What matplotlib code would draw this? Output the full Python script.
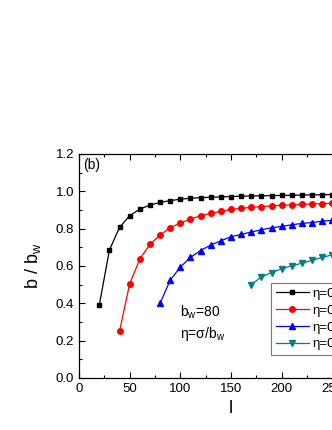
import numpy as np
import matplotlib.pyplot as plt

plt.rcParams['font.family'] = ['Liberation Sans', 'DejaVu Sans']

# black squares
l_1 = [20, 30, 40, 50, 60, 70, 80, 90, 100, 110, 120, 130, 140, 150, 160, 170, 180, 190, 200, 210, 220, 230, 240, 250, 260, 270, 280, 290, 300]
r_1 = [0.39, 0.685, 0.807, 0.869, 0.905, 0.926, 0.941, 0.950, 0.958, 0.963, 0.966, 0.968, 0.970, 0.972, 0.974, 0.975, 0.976, 0.977, 0.978, 0.979, 0.980, 0.981, 0.982, 0.982, 0.983, 0.983, 0.984, 0.984, 0.985]
# red circles
l_2 = [40, 50, 60, 70, 80, 90, 100, 110, 120, 130, 140, 150, 160, 170, 180, 190, 200, 210, 220, 230, 240, 250, 260, 270, 280, 290, 300]
r_2 = [0.25, 0.505, 0.637, 0.716, 0.766, 0.805, 0.830, 0.851, 0.869, 0.882, 0.893, 0.903, 0.909, 0.914, 0.918, 0.922, 0.925, 0.927, 0.930, 0.932, 0.934, 0.936, 0.938, 0.940, 0.941, 0.943, 0.944]
# blue triangles
l_3 = [80, 90, 100, 110, 120, 130, 140, 150, 160, 170, 180, 190, 200, 210, 220, 230, 240, 250, 260, 270, 280, 290, 300]
r_3 = [0.40, 0.524, 0.594, 0.646, 0.683, 0.712, 0.735, 0.757, 0.769, 0.782, 0.794, 0.805, 0.812, 0.821, 0.828, 0.833, 0.840, 0.845, 0.850, 0.855, 0.859, 0.863, 0.866]
# teal down triangles
l_4 = [170, 180, 190, 200, 210, 220, 230, 240, 250, 260, 270, 280, 290, 300]
r_4 = [0.50, 0.542, 0.565, 0.585, 0.601, 0.615, 0.630, 0.646, 0.660, 0.672, 0.683, 0.693, 0.702, 0.710]

labels = ['η=0.1', 'η=0.2', 'η=0.3', 'η=0.4']

fig = plt.figure(figsize=(3.32, 4.30), dpi=100)
ax = fig.add_axes((79 / 332, 52 / 430, 304 / 332, 224 / 430))

ax.plot(l_1, r_1, '-s', color='black', lw=0.9, ms=3.4, label=labels[0])
ax.plot(l_2, r_2, '-o', color='#FF0000', lw=0.9, ms=4.0, label=labels[1])
ax.plot(l_3, r_3, '-^', color='#0000FF', lw=0.9, ms=4.0, label=labels[2])
ax.plot(l_4, r_4, '-v', color='#008080', lw=0.9, ms=4.0, label=labels[3])

ax.set_xlim(0, 300)
ax.set_ylim(0, 1.2)
ax.set_xticks([0, 50, 100, 150, 200, 250, 300])
ax.set_xticks(np.arange(25, 300, 50), minor=True)
ax.set_yticks(np.arange(0, 1.21, 0.2))
ax.set_yticks(np.arange(0.1, 1.2, 0.2), minor=True)
ax.yaxis.set_major_formatter(plt.FormatStrFormatter('%.1f'))
ax.tick_params(which='both', direction='in', top=True, right=True, labelsize=9.5, width=0.8)
ax.tick_params(which='major', length=4)
ax.tick_params(which='minor', length=2)
for s in ax.spines.values():
    s.set_linewidth(0.9)

ax.set_xlabel('l', fontsize=13, labelpad=4)
ax.set_ylabel('b / b$_\\mathregular{w}$', fontsize=13, labelpad=9)

ax.text(0.015, 0.935, '(b)', transform=ax.transAxes, fontsize=10)
ax.text(100, 0.33, 'b$_\\mathregular{w}$=80', fontsize=10)
ax.text(100, 0.215, 'η=σ/b$_\\mathregular{w}$', fontsize=10)

leg = ax.legend(loc='upper left', bbox_to_anchor=(271 / 332, 1 - 283 / 430),
                bbox_transform=fig.transFigure, fontsize=9.5, frameon=True,
                fancybox=False, edgecolor='#555555', handlelength=2.5,
                handletextpad=0.3, borderpad=0.35, labelspacing=0.35, borderaxespad=0)
leg.get_frame().set_linewidth(0.8)

fig.savefig('out.png', dpi=100)
